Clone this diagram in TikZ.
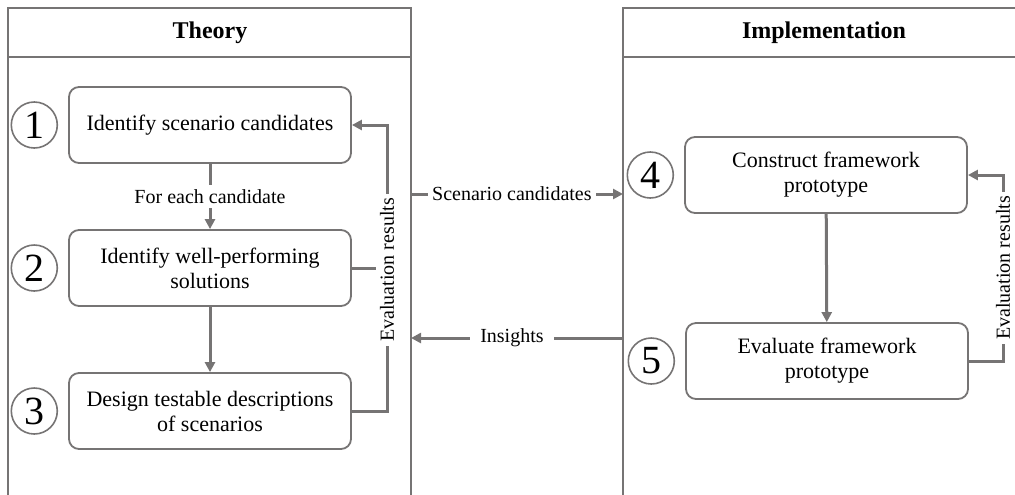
\documentclass[tikz,border=0pt]{standalone}
\usepackage{fontspec}
\setmainfont{Liberation Serif}
\usetikzlibrary{positioning,arrows.meta}

\definecolor{linegray}{RGB}{118,116,116}

\begin{document}
\begin{tikzpicture}[x=0.5pt,y=-0.5pt,>={Triangle[length=5pt,width=5pt]},
    stepbox/.style={draw=linegray,line width=0.9pt,rounded corners=5pt,
      minimum width=141pt,minimum height=38pt,align=center,
      font=\fontsize{11}{12.5}\selectfont},
    num/.style={circle,draw=linegray,line width=0.8pt,minimum size=23pt,
      inner sep=0pt,font=\fontsize{20}{20}\selectfont},
    panel/.style={draw=linegray,line width=1pt},
    title/.style={font=\bfseries\fontsize{12}{14}\selectfont},
    flow/.style={->,draw=linegray,line width=1.5pt},
    lbl/.style={fill=white,inner sep=2pt,font=\fontsize{10}{12}\selectfont}]

  \useasboundingbox (0,0) rectangle (1015,494);

  % Panels
  \draw[panel] (8,495) -- (8,8) -- (411,8) -- (411,495);
  \draw[panel] (8,57) -- (411,57);
  \draw[panel] (623,495) -- (623,8) -- (1016,8);
  \draw[panel] (623,57) -- (1016,57);
  \node[title] (theory) at (210,33) {Theory};
  \node[title] (impl)   at (824,33) {Implementation};

  % Steps
  \node[stepbox] (s1) at (210,125) {Identify scenario candidates};
  \node[stepbox] (s2) at (210,268) {Identify well-performing\\solutions};
  \node[stepbox] (s3) at (210,411) {Design testable descriptions\\of scenarios};
  \node[stepbox] (s4) at (826,175) {Construct framework\\prototype};
  \node[stepbox] (s5) at (827,361) {Evaluate framework\\prototype};

  \node[num] (n1) [left=5pt of s1] {1};
  \node[num] (n2) [left=5pt of s2] {2};
  \node[num] (n3) [left=5pt of s3] {3};
  \node[num] (n4) [left=5pt of s4] {4};
  \node[num] (n5) [left=5pt of s5] {5};

  % Flow inside the panels
  \draw[flow] (s1) -- node[lbl] {For each candidate} (s2);
  \draw[flow] (s2) -- (s3);
  \draw[flow] (s4) -- (s5);

  % Feedback loops
  \coordinate (fbL) at (387,268);
  \draw[flow] (s3.east) -- (s3.east -| fbL) |- (s1.east);
  \draw[flow,-] (s2.east) -- (fbL);
  \node[lbl,rotate=90] (evalL) at (387,270) {Evaluation results};

  \coordinate (fbR) at (1003,268);
  \draw[flow] (s5.east) -- (s5.east -| fbR) |- (s4.east);
  \node[lbl,rotate=90] (evalR) at (1003,268) {Evaluation results};

  % Between the panels
  \coordinate (thA) at (411,194);
  \coordinate (imA) at (623,194);
  \coordinate (thB) at (411,338);
  \coordinate (imB) at (623,338);
  \draw[flow] (thA) -- node[lbl,pos=0.476] {Scenario candidates} (imA);
  \draw[flow] (imB) -- node[lbl,pos=0.524,inner xsep=5pt] {Insights} (thB);

\end{tikzpicture}
\end{document}
